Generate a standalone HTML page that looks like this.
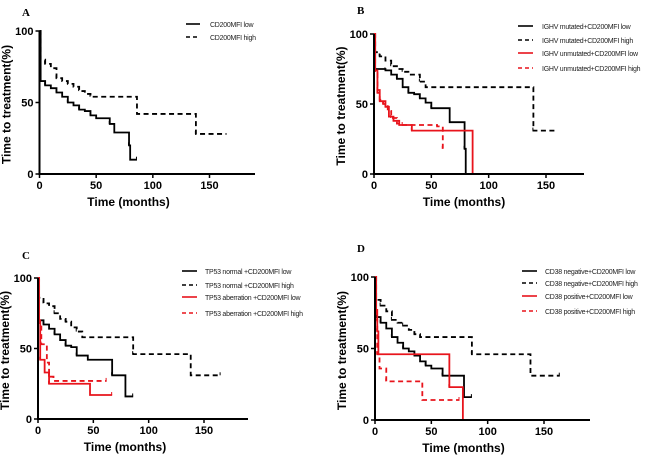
<!DOCTYPE html>
<html><head><meta charset="utf-8"><style>
body{margin:0;background:#fff;}
svg{display:block;font-family:"Liberation Sans",Arial,sans-serif;}
</style></head><body>
<svg id="chart" width="650" height="455" viewBox="0 0 650 455"></svg>
<script>
const panelLabels = ["A","B","C","D"];
const xTicks = [0,50,100,150];
const yTicks = [0,50,100];
const legendA = ["CD200MFI low","CD200MFI high"];
const legendB = ["IGHV mutated+CD200MFI low","IGHV mutated+CD200MFI high","IGHV unmutated+CD200MFI low","IGHV unmutated+CD200MFI high"];
const legendC = ["TP53 normal +CD200MFI low","TP53 normal +CD200MFI high","TP53 aberration +CD200MFI low","TP53 aberration +CD200MFI high"];
const legendD = ["CD38 negative+CD200MFI low","CD38 negative+CD200MFI high","CD38 positive+CD200MFI low","CD38 positive+CD200MFI high"];
// [time, survival%] step points
const aLow = [[0,100],[1,65],[5,62],[10,60],[15,57],[20,54],[25,50],[30,48],[35,45],[40,44],[45,41],[50,39],[62,35],[66,29],[79,20],[80,10],[86,10]];
const aHigh = [[0,100],[1,80],[5,77],[10,74],[15,67],[20,65],[25,63],[30,61],[35,58],[40,56],[45,54],[86,42],[138,28],[165,28]];
const bMutLow = [[0,100],[1,75],[10,74],[15,71],[20,68],[25,62],[30,58],[35,57],[40,54],[45,51],[50,47],[66,37],[79,18],[80,0]];
const bMutHigh = [[0,100],[1,87],[5,84],[10,81],[15,77],[20,75],[25,73],[30,71],[40,66],[45,62],[139,31],[158,31]];
const bUnLow = [[0,100],[1,74],[3,60],[5,52],[10,48],[13,41],[17,38],[22,35],[33,31],[86,0]];
const bUnHigh = [[0,100],[1,72],[3,58],[5,53],[8,50],[12,45],[15,40],[20,36],[25,35],[55,34],[60,18],[60.5,18]];
const cNormLow = [[0,100],[1,70],[5,67],[10,64],[15,60],[20,56],[25,52],[30,51],[35,45],[45,42],[67,31],[79,16],[86,16]];
const cNormHigh = [[0,100],[1,86],[5,82],[10,80],[15,75],[20,71],[25,69],[30,65],[35,62],[40,58],[86,46],[138,31],[165,31]];
const cAbLow = [[0,100],[1,70],[2,42],[6,33],[10,25],[47,17],[67,17]];
const cAbHigh = [[0,100],[1,68],[3,53],[8,40],[10,30],[14,27],[62,27]];
const dNegLow = [[0,100],[1,72],[5,68],[10,64],[15,58],[20,54],[25,50],[30,48],[35,45],[40,41],[45,38],[50,36],[60,31],[79,16],[86,16]];
const dNegHigh = [[0,100],[1,84],[5,80],[10,76],[15,70],[20,68],[25,66],[30,63],[35,60],[40,58],[86,46],[138,31],[164,31]];
const dPosLow = [[0,100],[1,77],[2,62],[3,46],[66,23],[78,0]];
const dPosHigh = [[0,100],[1,70],[2,46],[4,36],[10,27],[42,14],[75,14]];

const NS="http://www.w3.org/2000/svg";
const svg=document.getElementById('chart');
function mk(tag,attrs,parent){const e=document.createElementNS(NS,tag);for(const k in attrs)e.setAttribute(k,attrs[k]);(parent||svg).appendChild(e);return e;}

const panels=[
 {ox:39.5,x150:209.5,xEnd:255,y100:31,y0:174,lab:[22,7],legend:legendA,series:[[aLow,"#000",false],[aHigh,"#000",true]],lx1:186,lx2:200,ltx:210,ly:[24,37]},
 {ox:374,x150:546,xEnd:584,y100:34,y0:174,lab:[357,5],legend:legendB,series:[[bMutLow,"#000",false],[bMutHigh,"#000",true],[bUnLow,"#e8141c",false],[bUnHigh,"#e8141c",true]],lx1:518,lx2:533,ltx:542,ly:[26,40,53,68]},
 {ox:38,x150:204,xEnd:248,y100:278,y0:419,lab:[22,250],legend:legendC,series:[[cNormLow,"#000",false],[cNormHigh,"#000",true],[cAbLow,"#e8141c",false],[cAbHigh,"#e8141c",true]],lx1:182,lx2:197,ltx:205,ly:[271,285,297,313]},
 {ox:375,x150:544,xEnd:590,y100:277,y0:420,lab:[357,243],legend:legendD,series:[[dNegLow,"#000",false],[dNegHigh,"#000",true],[dPosLow,"#e8141c",false],[dPosHigh,"#e8141c",true]],lx1:522,lx2:537,ltx:545,ly:[271,283,296,311]}
];

panels.forEach((p,i)=>{
  const g=mk('g',{});
  
  
  const xs=t=>p.ox+(p.x150-p.ox)*t/150;
  const ys=v=>p.y0+(p.y100-p.y0)*v/100;
  const L=mk('text',{x:p.lab[0],y:p.lab[1]+9,'font-size':11,'font-weight':'bold','font-family':'Liberation Serif,serif'},g);L.textContent=panelLabels[i];
  
  
  p.series.forEach((s,j)=>{
    const pts=s[0];let d='M'+xs(pts[0][0])+','+ys(pts[0][1]);
    for(let k=1;k<pts.length;k++){d+=' H'+xs(pts[k][0])+' V'+ys(pts[k][1]);}
    const path=mk('path',{d:d,fill:'none',stroke:s[1],'stroke-width':1.8,'stroke-dasharray':s[2]?'5,3.5':'none'},g);
    
    
    for(let k=2;k<pts.length;k+=2){mk('line',{x1:xs(pts[k][0])-0.5,x2:xs(pts[k][0])-0.5,y1:ys(pts[k][1])-3,y2:ys(pts[k][1]),stroke:s[1],'stroke-width':1},g);}
    const ly=p.ly[j];
    const ll=mk('line',{x1:p.lx1,x2:p.lx2,y1:ly,y2:ly,stroke:s[1],'stroke-width':1.6,'stroke-dasharray':s[2]?'4,3':'none'},g);
    
    
    const lt=mk('text',{x:p.ltx,y:ly+3,'font-size':7,'letter-spacing':'-0.25',fill:'#222'},g);lt.textContent=p.legend[j];
    
    
  });
  const ax=mk('path',{d:`M${p.ox},${p.y100} V${p.y0} H${p.xEnd}`,fill:'none',stroke:'#000','stroke-width':2},g);
  
  
  xTicks.forEach(t=>{mk('line',{x1:xs(t),x2:xs(t),y1:p.y0,y2:p.y0+4,stroke:'#000','stroke-width':1.5},g);
    const tx=mk('text',{x:xs(t),y:p.y0+15,'font-size':11,'font-weight':'bold','text-anchor':'middle'},g);tx.textContent=t;
    
    });
  yTicks.forEach(v=>{mk('line',{x1:p.ox-4,x2:p.ox,y1:ys(v),y2:ys(v),stroke:'#000','stroke-width':1.5},g);
    const ty=mk('text',{x:p.ox-6,y:ys(v)+4,'font-size':11,'font-weight':'bold','text-anchor':'end'},g);ty.textContent=v;
    
    });
  const xt=mk('text',{x:(p.ox+xs(150))/2+4,y:p.y0+32,'font-size':12,'font-weight':'bold','text-anchor':'middle'},g);xt.textContent='Time (months)';
  
  
  const cy=(p.y0+p.y100)/2+2;const cx=p.ox-29;
  const yt=mk('text',{x:cx,y:cy,'font-size':12,'font-weight':'bold','text-anchor':'middle',transform:`rotate(-90 ${cx} ${cy})`},g);yt.textContent='Time to treatment(%)';
  
  
});
</script>
</body></html>
